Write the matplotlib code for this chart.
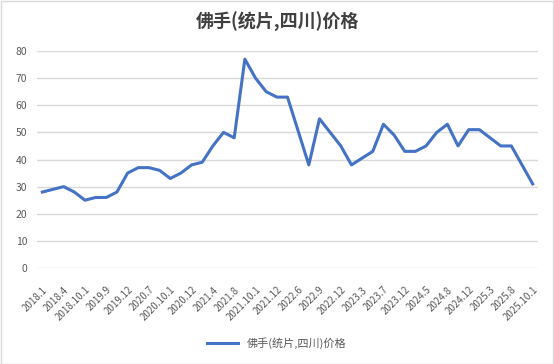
import matplotlib.pyplot as plt
import numpy as np

plt.rcParams['font.family'] = ['Noto Sans CJK SC', 'DejaVu Sans']

labels = ['2018.1', '2018.4', '2018.10.1', '2019.9', '2019.12', '2020.7',
          '2020.10.1', '2020.12', '2021.4', '2021.8', '2021.10.1', '2021.12',
          '2022.6', '2022.9', '2022.12', '2023.3', '2023.7', '2023.12',
          '2024.5', '2024.8', '2024.12', '2025.3', '2025.8', '2025.10.1']
price = [28, 29, 30, 28, 25, 26, 26, 28, 35, 37, 37, 36, 33, 35, 38, 39,
         45, 50, 48, 77, 70, 65, 63, 63, 50.5, 38, 55, 50, 45, 38, 40.5, 43,
         53, 49, 43, 43, 45, 50, 53, 45, 51, 51, 48, 45, 45, 38, 31]
name = '佛手(统片,四川)价格'

x = np.arange(len(price))

fig = plt.figure(figsize=(5.54, 3.64), dpi=100)
ax = fig.add_axes([37/554, 1-268/364, 501/554, 217/364])

ax.plot(x, price, color='#4472C4', lw=2.2, label=name, solid_joinstyle='round')
ax.set_xlim(-0.5, len(price) - 0.5)
ax.set_ylim(0, 80)
ax.set_yticks(range(0, 81, 10))
ax.set_xticks(x[::2])
ax.set_xticklabels(labels, rotation=45, ha='right', rotation_mode='anchor')
ax.tick_params(axis='x', length=0, pad=12, labelsize=7, labelcolor='#595959')
ax.tick_params(axis='y', length=0, pad=7, labelsize=7.5, labelcolor='#595959')
ax.grid(axis='y', color='#d9d9d9', lw=1)
ax.set_axisbelow(True)
for s in ax.spines.values():
    s.set_visible(False)

fig.text(0.5, 1-22/364, name, ha='center', va='center', fontsize=13,
         fontweight='bold', color='#404040')
fig.legend(loc='center', bbox_to_anchor=(0.5, 1-343/364), frameon=False,
           fontsize=8, handlelength=2.8, labelcolor='#595959')

fig.patches.append(plt.Rectangle((0.001, 0.001), 0.997, 0.996, transform=fig.transFigure,
                                 fill=False, edgecolor='#d9d9d9', lw=1))
fig.savefig('out.png', dpi=100)
